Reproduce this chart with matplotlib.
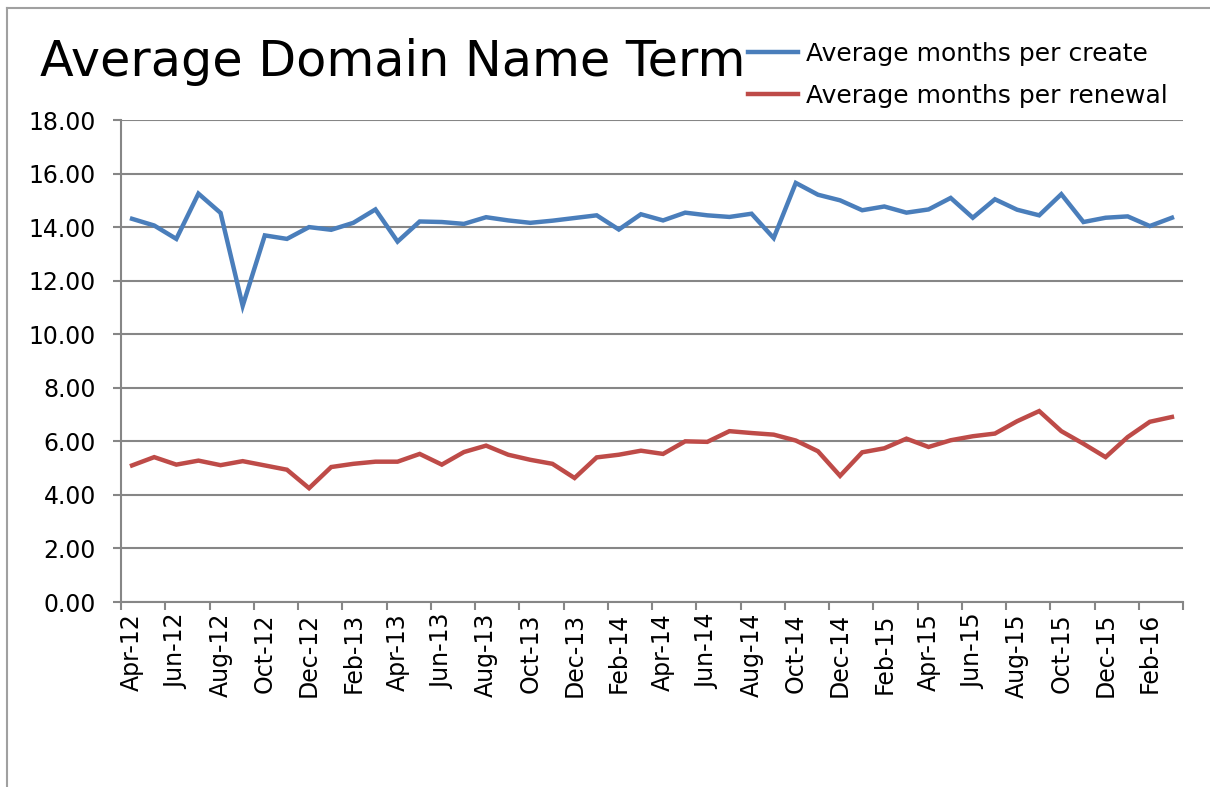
import numpy as np
import matplotlib.pyplot as plt
from matplotlib.lines import Line2D

plt.rcParams['font.family'] = ['DejaVu Sans']

# Monthly data, Apr-12 .. Mar-16
months = ['Apr-12', 'May-12', 'Jun-12', 'Jul-12', 'Aug-12', 'Sep-12', 'Oct-12', 'Nov-12',
          'Dec-12', 'Jan-13', 'Feb-13', 'Mar-13', 'Apr-13', 'May-13', 'Jun-13', 'Jul-13',
          'Aug-13', 'Sep-13', 'Oct-13', 'Nov-13', 'Dec-13', 'Jan-14', 'Feb-14', 'Mar-14',
          'Apr-14', 'May-14', 'Jun-14', 'Jul-14', 'Aug-14', 'Sep-14', 'Oct-14', 'Nov-14',
          'Dec-14', 'Jan-15', 'Feb-15', 'Mar-15', 'Apr-15', 'May-15', 'Jun-15', 'Jul-15',
          'Aug-15', 'Sep-15', 'Oct-15', 'Nov-15', 'Dec-15', 'Jan-16', 'Feb-16', 'Mar-16']

create = [14.31, 14.06, 13.56, 15.25, 14.53, 11.06, 13.69, 13.56, 14.00, 13.90,
          14.16, 14.66, 13.46, 14.21, 14.19, 14.12, 14.37, 14.25, 14.16, 14.24,
          14.34, 14.44, 13.91, 14.48, 14.25, 14.54, 14.44, 14.38, 14.50, 13.59,
          15.65, 15.21, 15.00, 14.63, 14.77, 14.54, 14.66, 15.09, 14.35, 15.04,
          14.65, 14.44, 15.23, 14.19, 14.35, 14.40, 14.04, 14.35]

renewal = [5.10, 5.41, 5.13, 5.28, 5.11, 5.26, 5.10, 4.94, 4.25, 5.04,
           5.16, 5.24, 5.24, 5.53, 5.13, 5.60, 5.84, 5.50, 5.31, 5.16,
           4.63, 5.40, 5.50, 5.65, 5.53, 6.00, 5.98, 6.38, 6.31, 6.25,
           6.03, 5.63, 4.71, 5.59, 5.74, 6.10, 5.79, 6.04, 6.19, 6.29,
           6.75, 7.13, 6.38, 5.91, 5.41, 6.16, 6.73, 6.91]

blue = '#4A7EBB'
red = '#BE4B48'
grid_col = '#868686'

fig = plt.figure(figsize=(12.1, 7.87), dpi=100)
ax = fig.add_axes([121 / 1210, 1 - 602 / 787, (1183 - 121) / 1210, (602 - 120) / 787])

x = np.arange(len(months)) + 0.5
ax.plot(x, create, color=blue, lw=3.2, label='Average months per create', solid_joinstyle='miter')
ax.plot(x, renewal, color=red, lw=3.2, label='Average months per renewal', solid_joinstyle='miter')

ax.set_xlim(0, len(months))
ax.set_ylim(0, 18)
ax.set_yticks(np.arange(0, 18.1, 2))
ax.set_yticklabels(['{:.2f}'.format(v) for v in np.arange(0, 18.1, 2)], fontsize=17)

# category ticks every 2 months at boundaries, labels at category centres
ax.set_xticks(np.arange(0, len(months) + 1, 2))
ax.set_xticklabels([])
ax.set_xticks(x[::2], minor=True)
ax.set_xticklabels(months[::2], minor=True, rotation=90, fontsize=17)
ax.tick_params(axis='x', which='minor', length=0, pad=8)
ax.tick_params(axis='x', which='major', length=6, color=grid_col, width=1.5)
ax.tick_params(axis='y', length=6, color=grid_col, width=1.5, pad=12)

ax.grid(True, axis='y', color=grid_col, lw=1.5)
ax.set_axisbelow(True)
for s in ['top', 'right']:
    ax.spines[s].set_visible(False)
for s in ['left', 'bottom']:
    ax.spines[s].set_color(grid_col)
    ax.spines[s].set_linewidth(1.5)

fig.text(40 / 1210, 1 - 62 / 787, 'Average Domain Name Term', fontsize=35.5, va='center', ha='left')

ax.legend(loc='upper left', bbox_to_anchor=(738 / 1210, 1 - 32 / 787), bbox_transform=fig.transFigure,
          frameon=False, fontsize=18, handlelength=2.0, handletextpad=0.3, labelspacing=0.7,
          borderaxespad=0)

# outer frame (top and left edges only visible)
fig.add_artist(Line2D([7 / 1210, 1], [1 - 8 / 787, 1 - 8 / 787], color='#a0a0a0', lw=1.5,
                      transform=fig.transFigure))
fig.add_artist(Line2D([7 / 1210, 7 / 1210], [0, 1 - 8 / 787], color='#a0a0a0', lw=1.5,
                      transform=fig.transFigure))

plt.savefig('out.png', dpi=100)
